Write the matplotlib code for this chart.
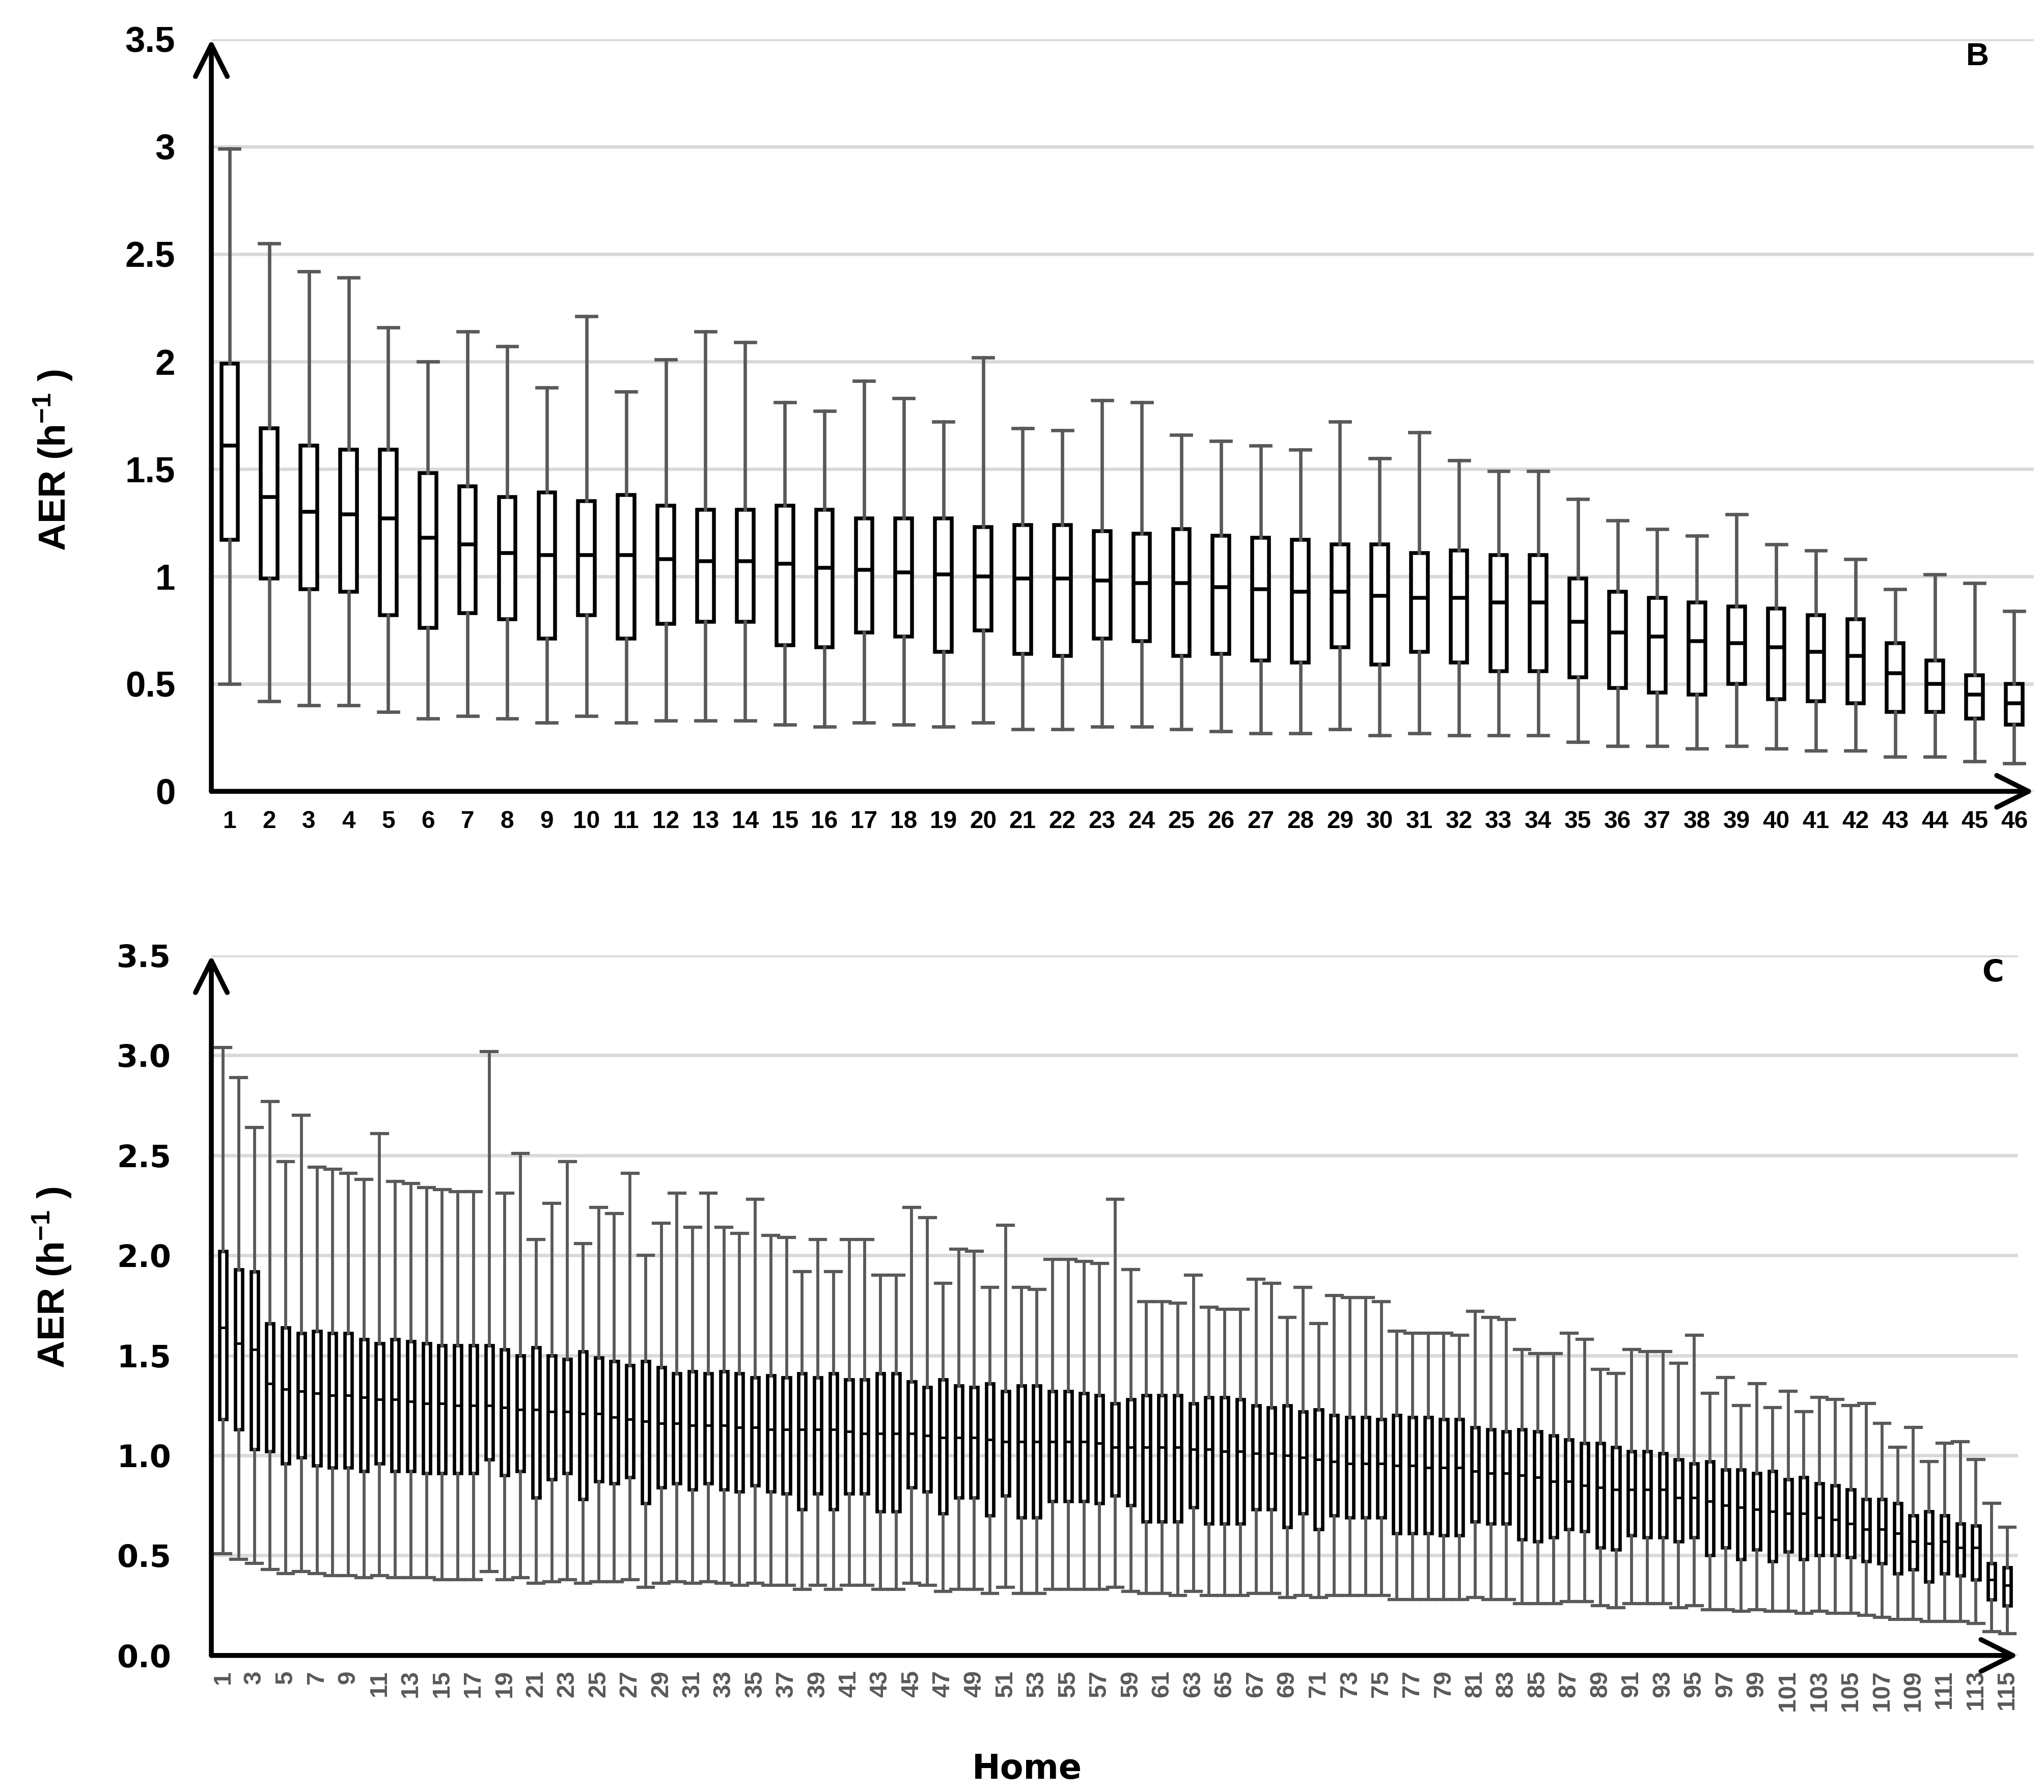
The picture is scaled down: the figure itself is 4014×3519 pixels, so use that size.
import matplotlib
matplotlib.use("Agg")
import matplotlib.pyplot as plt
from matplotlib import font_manager

# ---- data: panel B (46 homes) ----
b_whishi = [2.99, 2.55, 2.42, 2.39, 2.16, 2.00, 2.14, 2.07, 1.88, 2.21, 1.86, 2.01, 2.14, 2.09, 1.81,
            1.77, 1.91, 1.83, 1.72, 2.02, 1.69, 1.68, 1.82, 1.81, 1.66, 1.63, 1.61, 1.59, 1.72, 1.55,
            1.67, 1.54, 1.49, 1.49, 1.36, 1.26, 1.22, 1.19, 1.29, 1.15, 1.12, 1.08, 0.94, 1.01, 0.97, 0.84]
b_q3 = [1.99, 1.69, 1.61, 1.59, 1.59, 1.48, 1.42, 1.37, 1.39, 1.35, 1.38, 1.33, 1.31, 1.31, 1.33,
        1.31, 1.27, 1.27, 1.27, 1.23, 1.24, 1.24, 1.21, 1.20, 1.22, 1.19, 1.18, 1.17, 1.15, 1.15,
        1.11, 1.12, 1.10, 1.10, 0.99, 0.93, 0.90, 0.88, 0.86, 0.85, 0.82, 0.80, 0.69, 0.61, 0.54, 0.50]
b_med = [1.61, 1.37, 1.30, 1.29, 1.27, 1.18, 1.15, 1.11, 1.10, 1.10, 1.10, 1.08, 1.07, 1.07, 1.06,
         1.04, 1.03, 1.02, 1.01, 1.00, 0.99, 0.99, 0.98, 0.97, 0.97, 0.95, 0.94, 0.93, 0.93, 0.91,
         0.90, 0.90, 0.88, 0.88, 0.79, 0.74, 0.72, 0.70, 0.69, 0.67, 0.65, 0.63, 0.55, 0.50, 0.45, 0.41]
b_q1 = [1.17, 0.99, 0.94, 0.93, 0.82, 0.76, 0.83, 0.80, 0.71, 0.82, 0.71, 0.78, 0.79, 0.79, 0.68,
        0.67, 0.74, 0.72, 0.65, 0.75, 0.64, 0.63, 0.71, 0.70, 0.63, 0.64, 0.61, 0.60, 0.67, 0.59,
        0.65, 0.60, 0.56, 0.56, 0.53, 0.48, 0.46, 0.45, 0.50, 0.43, 0.42, 0.41, 0.37, 0.37, 0.34, 0.31]
b_whislo = [0.50, 0.42, 0.40, 0.40, 0.37, 0.34, 0.35, 0.34, 0.32, 0.35, 0.32, 0.33, 0.33, 0.33, 0.31,
            0.30, 0.32, 0.31, 0.30, 0.32, 0.29, 0.29, 0.30, 0.30, 0.29, 0.28, 0.27, 0.27, 0.29, 0.26,
            0.27, 0.26, 0.26, 0.26, 0.23, 0.21, 0.21, 0.20, 0.21, 0.20, 0.19, 0.19, 0.16, 0.16, 0.14, 0.13]

# ---- data: panel C (115 homes) ----
c_whishi = [3.04, 2.89, 2.64, 2.77, 2.47, 2.70, 2.44, 2.43, 2.41, 2.38, 2.61, 2.37, 2.36, 2.34, 2.33,
            2.32, 2.32, 3.02, 2.31, 2.51, 2.08, 2.26,
            2.47, 2.06, 2.24, 2.21, 2.41, 2.00, 2.16, 2.31, 2.14, 2.31, 2.14, 2.11, 2.28, 2.10, 2.09,
            1.92, 2.08, 1.92, 2.08, 2.08, 1.90, 1.90, 2.24, 2.19, 1.86, 2.03, 2.02, 1.84, 2.15, 1.84,
            1.83, 1.98, 1.98,
            1.97, 1.96, 2.28, 1.93, 1.77, 1.77, 1.76, 1.90, 1.74, 1.73, 1.73, 1.88, 1.86, 1.69, 1.84,
            1.66, 1.80, 1.79, 1.79, 1.77, 1.62, 1.61, 1.61, 1.61, 1.60, 1.72, 1.69, 1.68, 1.53, 1.51,
            1.51, 1.61,
            1.58, 1.43, 1.41, 1.53, 1.52, 1.52, 1.46, 1.60, 1.31, 1.39, 1.25, 1.36, 1.24, 1.32, 1.22,
            1.29, 1.28, 1.25, 1.26, 1.16, 1.04, 1.14, 0.97, 1.06, 1.07, 0.98, 0.76, 0.64]
c_q3 = [2.02, 1.93, 1.92, 1.66, 1.64, 1.61, 1.62, 1.61, 1.61, 1.58, 1.56, 1.58, 1.57, 1.56, 1.55,
        1.55, 1.55, 1.55, 1.53, 1.50, 1.54, 1.50,
        1.48, 1.52, 1.49, 1.47, 1.45, 1.47, 1.44, 1.41, 1.42, 1.41, 1.42, 1.41, 1.39, 1.40, 1.39,
        1.41, 1.39, 1.41, 1.38, 1.38, 1.41, 1.41, 1.37, 1.34, 1.38, 1.35, 1.34, 1.36, 1.32, 1.35,
        1.35, 1.32, 1.32,
        1.31, 1.30, 1.26, 1.28, 1.30, 1.30, 1.30, 1.26, 1.29, 1.29, 1.28, 1.25, 1.24, 1.25, 1.22,
        1.23, 1.20, 1.19, 1.19, 1.18, 1.20, 1.19, 1.19, 1.18, 1.18, 1.14, 1.13, 1.12, 1.13, 1.12,
        1.10, 1.08,
        1.06, 1.06, 1.04, 1.02, 1.02, 1.01, 0.98, 0.96, 0.97, 0.93, 0.93, 0.91, 0.92, 0.88, 0.89,
        0.86, 0.85, 0.83, 0.78, 0.78, 0.76, 0.70, 0.72, 0.70, 0.66, 0.65, 0.46, 0.44]
c_med = [1.64, 1.56, 1.53, 1.36, 1.33, 1.32, 1.31, 1.30, 1.30, 1.29, 1.28, 1.28, 1.27, 1.26, 1.26,
         1.25, 1.25, 1.25, 1.24, 1.23, 1.23, 1.22,
         1.22, 1.21, 1.21, 1.19, 1.18, 1.17, 1.16, 1.16, 1.15, 1.15, 1.15, 1.14, 1.14, 1.13, 1.13,
         1.13, 1.13, 1.13, 1.12, 1.11, 1.11, 1.11, 1.11, 1.10, 1.09, 1.09, 1.09, 1.08, 1.07, 1.07,
         1.07, 1.07, 1.07,
         1.07, 1.06, 1.04, 1.04, 1.04, 1.04, 1.04, 1.03, 1.03, 1.02, 1.02, 1.01, 1.01, 1.00, 0.99,
         0.98, 0.97, 0.96, 0.96, 0.96, 0.95, 0.95, 0.94, 0.94, 0.94, 0.92, 0.91, 0.91, 0.90, 0.89,
         0.87, 0.87,
         0.85, 0.84, 0.83, 0.83, 0.83, 0.83, 0.79, 0.79, 0.77, 0.75, 0.74, 0.73, 0.72, 0.71, 0.71,
         0.69, 0.68, 0.66, 0.63, 0.63, 0.61, 0.57, 0.56, 0.57, 0.54, 0.54, 0.38, 0.35]
c_q1 = [1.18, 1.13, 1.03, 1.02, 0.96, 0.99, 0.95, 0.94, 0.94, 0.92, 0.96, 0.92, 0.92, 0.91, 0.91,
        0.91, 0.91, 0.98, 0.90, 0.92, 0.79, 0.88,
        0.91, 0.78, 0.87, 0.86, 0.89, 0.76, 0.84, 0.86, 0.83, 0.86, 0.83, 0.82, 0.85, 0.82, 0.81,
        0.73, 0.81, 0.73, 0.81, 0.81, 0.72, 0.72, 0.84, 0.82, 0.71, 0.79, 0.79, 0.70, 0.80, 0.69,
        0.69, 0.77, 0.77,
        0.77, 0.76, 0.80, 0.75, 0.67, 0.67, 0.67, 0.74, 0.66, 0.66, 0.66, 0.73, 0.73, 0.64, 0.71,
        0.63, 0.70, 0.69, 0.69, 0.69, 0.61, 0.61, 0.61, 0.60, 0.60, 0.67, 0.66, 0.66, 0.58, 0.57,
        0.59, 0.63,
        0.62, 0.54, 0.53, 0.60, 0.59, 0.59, 0.57, 0.59, 0.50, 0.54, 0.48, 0.53, 0.47, 0.52, 0.48,
        0.50, 0.50, 0.49, 0.47, 0.46, 0.41, 0.43, 0.37, 0.41, 0.40, 0.38, 0.28, 0.25]
c_whislo = [0.51, 0.48, 0.46, 0.43, 0.41, 0.42, 0.41, 0.40, 0.40, 0.39, 0.40, 0.39, 0.39, 0.39, 0.38,
            0.38, 0.38, 0.42, 0.38, 0.39, 0.36, 0.37,
            0.38, 0.36, 0.37, 0.37, 0.38, 0.34, 0.36, 0.37, 0.36, 0.37, 0.36, 0.35, 0.36, 0.35, 0.35,
            0.33, 0.35, 0.33, 0.35, 0.35, 0.33, 0.33, 0.36, 0.35, 0.32, 0.33, 0.33, 0.31, 0.34, 0.31,
            0.31, 0.33, 0.33,
            0.33, 0.33, 0.34, 0.32, 0.31, 0.31, 0.30, 0.32, 0.30, 0.30, 0.30, 0.31, 0.31, 0.29, 0.30,
            0.29, 0.30, 0.30, 0.30, 0.30, 0.28, 0.28, 0.28, 0.28, 0.28, 0.29, 0.28, 0.28, 0.26, 0.26,
            0.26, 0.27,
            0.27, 0.25, 0.24, 0.26, 0.26, 0.26, 0.24, 0.25, 0.23, 0.23, 0.22, 0.23, 0.22, 0.22, 0.21,
            0.22, 0.21, 0.21, 0.20, 0.19, 0.18, 0.18, 0.17, 0.17, 0.17, 0.16, 0.12, 0.11]

yticks = [0, 0.5, 1, 1.5, 2, 2.5, 3, 3.5]
b_yticklabels = ["0", "0.5", "1", "1.5", "2", "2.5", "3", "3.5"]
c_yticklabels = ["0.0", "0.5", "1.0", "1.5", "2.0", "2.5", "3.0", "3.5"]

# fonts
installed = {f.name for f in font_manager.fontManager.ttflist}
narrow = "Liberation Sans Narrow" if "Liberation Sans Narrow" in installed else "Liberation Sans"
wide = "DejaVu Sans"
arial = "Liberation Sans"
plt.rcParams["mathtext.fontset"] = "custom"
plt.rcParams["mathtext.rm"] = "Liberation Sans"
plt.rcParams["mathtext.bf"] = "Liberation Sans:bold"

GRID = "#d9d9d9"
WHISK = "#595959"
YLABEL = r"AER (h$^{\mathbf{-1}}$ )"


def stats(lo, q1, med, q3, hi):
    return [dict(whislo=a, q1=b, med=c, q3=d, whishi=e, fliers=[])
            for a, b, c, d, e in zip(lo, q1, med, q3, hi)]


def arrows(ax):
    ax.spines[["top", "right", "left", "bottom"]].set_visible(False)
    style = "->,head_length=0.5,head_width=0.25"
    for tip in [(0, 1.0), (1.0, 0)]:
        ax.annotate("", xy=tip, xycoords="axes fraction", xytext=(0, 0),
                    arrowprops=dict(arrowstyle=style, lw=2.3, color="black",
                                    mutation_scale=30, shrinkA=0, shrinkB=0))


fig = plt.figure(figsize=(4014 / 300, 3519 / 300), dpi=300)

# ---------- panel B ----------
axb = fig.add_axes([0.1034, 0.5584, 0.8917, 0.4197])
nb = len(b_med)
axb.bxp(stats(b_whislo, b_q1, b_med, b_q3, b_whishi), positions=range(1, nb + 1),
        widths=0.42, capwidths=0.5, showfliers=False, patch_artist=True,
        boxprops=dict(facecolor="white", edgecolor="black", linewidth=1.8),
        medianprops=dict(color="black", linewidth=1.8),
        whiskerprops=dict(color=WHISK, linewidth=1.6),
        capprops=dict(color=WHISK, linewidth=1.6), zorder=3)
axb.set_xlim(0.54, 46.5)
axb.set_ylim(0, 3.5)
axb.set_yticks(yticks)
axb.set_yticklabels(b_yticklabels, fontfamily=narrow, fontweight="bold", fontsize=17)
axb.set_xticks(range(1, nb + 1))
axb.set_xticklabels([str(i) for i in range(1, nb + 1)], fontfamily=narrow,
                    fontweight="bold", fontsize=11.5)
axb.tick_params(axis="y", length=0, pad=17)
axb.tick_params(axis="x", length=0, pad=9)
axb.yaxis.grid(True, color=GRID, linewidth=1.6)
axb.set_axisbelow(True)
arrows(axb)
axb.set_ylabel(YLABEL, fontfamily=arial, fontweight="bold", fontsize=18)
axb.yaxis.set_label_coords(-0.075, 0.44)
axb.text(0.969, 0.977, "B", transform=axb.transAxes, fontfamily=arial,
         fontweight="bold", fontsize=15, ha="center", va="center")

# ---------- panel C ----------
axc = fig.add_axes([0.1034, 0.0762, 0.884, 0.3907])
nc = len(c_med)
axc.bxp(stats(c_whislo, c_q1, c_med, c_q3, c_whishi), positions=range(1, nc + 1),
        widths=0.46, capwidths=1.0, showfliers=False, patch_artist=True,
        boxprops=dict(facecolor="white", edgecolor="black", linewidth=1.6),
        medianprops=dict(color="black", linewidth=1.2),
        whiskerprops=dict(color=WHISK, linewidth=1.4),
        capprops=dict(color=WHISK, linewidth=1.5), zorder=3)
axc.set_xlim(0.25, 115.7)
axc.set_ylim(0, 3.5)
axc.set_yticks(yticks)
axc.set_yticklabels(c_yticklabels, fontfamily=wide, fontweight="bold", fontsize=14.5)
odd = list(range(1, nc + 1, 2))
axc.set_xticks(odd)
axc.set_xticklabels([str(i) for i in odd], rotation=90, color=WHISK,
                    fontfamily=narrow, fontweight="bold", fontsize=11.5)
axc.tick_params(axis="y", length=0, pad=19)
axc.tick_params(axis="x", length=0, pad=7)
axc.yaxis.grid(True, color=GRID, linewidth=1.6)
axc.set_axisbelow(True)
arrows(axc)
axc.set_ylabel(YLABEL, fontfamily=arial, fontweight="bold", fontsize=18)
axc.yaxis.set_label_coords(-0.076, 0.54)
axc.text(0.986, 0.975, "C", transform=axc.transAxes, fontfamily=wide,
         fontweight="bold", fontsize=14, ha="center", va="center")

fig.text(0.5025, 1 - 3474 / 3519, "Home", fontfamily=wide, fontweight="bold",
         fontsize=16, ha="center", va="center")

fig.savefig("out.png", dpi=300)
